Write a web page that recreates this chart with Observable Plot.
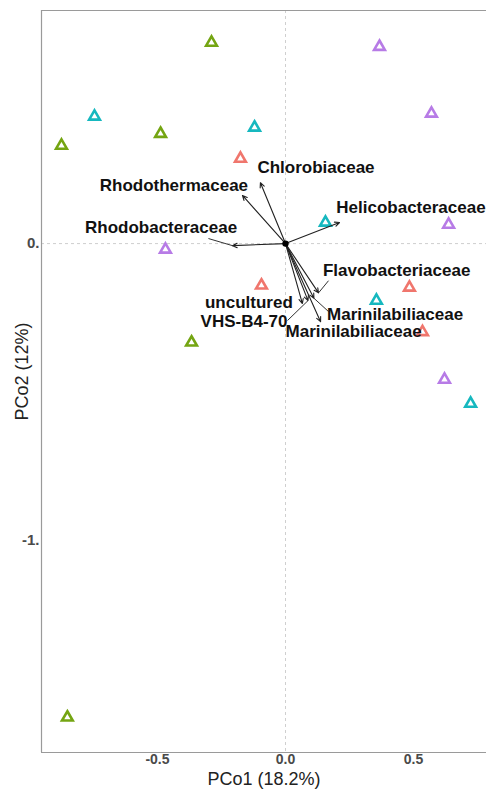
<!DOCTYPE html>
<html>
<head>
<meta charset="utf-8">
<script src="https://cdn.jsdelivr.net/npm/d3@7"></script>
<script src="https://cdn.jsdelivr.net/npm/@observablehq/plot@0.6"></script>
<style>
  html, body { margin: 0; padding: 0; background: #fff; }
  #chart svg { display: block; }
</style>
</head>
<body>
<div id="chart"></div>
<script>
// Sample scores (PCo1, PCo2) and group
const groupNames = ["A", "B", "C", "D"];
const groupColors = ["#F0766D", "#74A512", "#16B8BF", "#B77BE6"];
const ptX = [-0.176, -0.094, 0.484, 0.535,
             -0.289, -0.875, -0.488, -0.367, -0.852,
             -0.746, -0.121, 0.156, 0.355, 0.723,
             0.367, 0.570, 0.637, -0.469, 0.621];
const ptY = [0.286, -0.141, -0.148, -0.298,
             0.677, 0.330, 0.370, -0.333, -1.596,
             0.428, 0.391, 0.071, -0.192, -0.539,
             0.663, 0.438, 0.064, -0.020, -0.458];
const ptGroup = ["A","A","A","A",
                 "B","B","B","B","B",
                 "C","C","C","C","C",
                 "D","D","D","D","D"];

// Taxa vectors
const vecNames = ["Rhodobacteraceae", "Rhodothermaceae", "Chlorobiaceae", "Helicobacteraceae",
                  "Flavobacteriaceae", "uncultured", "VHS-B4-70", "Marinilabiliaceae", "Marinilabiliaceae"];
const vecX = [-0.207, -0.168, -0.098, 0.211, 0.129, 0.066, 0.088, 0.111, 0.137];
const vecY = [-0.007, 0.162, 0.205, 0.071, -0.166, -0.202, -0.192, -0.184, -0.263];
// Label positions (data units)
const labX = [-0.486, -0.436, 0.119, 0.490, 0.434, -0.143, -0.162, 0.428, 0.266];
const labY = [0.054, 0.195, 0.256, 0.121, -0.091, -0.199, -0.263, -0.239, -0.296];
// Label connector start points (near labels), NaN = no connector
const conX = [-0.301, NaN, NaN, NaN, 0.168, NaN, 0.008, 0.168, NaN];
const conY = [0.017, NaN, NaN, NaN, -0.125, NaN, -0.259, -0.229, NaN];

const xDomain = [-0.953, 0.785];
const yDomain = [-1.714, 0.785];
const xTicks = [-0.5, 0, 0.5];
const xTickLabels = ["-0.5", "0.0", "0.5"];
const yTicks = [0, -1];
const yTickLabels = ["0.", "-1."];
const xTitle = "PCo1 (18.2%)";
const yTitle = "PCo2 (12%)";

const points = ptX.map((x, i) => ({x, y: ptY[i], g: ptGroup[i]}));
const vecs = vecNames.map((name, i) => ({name, x: vecX[i], y: vecY[i], lx: labX[i], ly: labY[i], cx: conX[i], cy: conY[i]}));
const conns = vecs.filter(d => !isNaN(d.cx));

const font = "'Liberation Sans', Arial, sans-serif";

const chart = Plot.plot({
  width: 486,
  height: 789,
  marginLeft: 41,
  marginRight: 0,
  marginTop: 10,
  marginBottom: 37,
  style: {fontFamily: font, background: "#fff"},
  x: {domain: xDomain},
  y: {domain: yDomain},
  color: {domain: groupNames, range: groupColors},
  marks: [
    Plot.ruleX([0], {stroke: "#cfcfcf", strokeDasharray: "3,3", strokeWidth: 1}),
    Plot.ruleY([0], {stroke: "#cfcfcf", strokeDasharray: "3,3", strokeWidth: 1}),
    Plot.ruleX([xDomain[0]], {stroke: "#9a9a9a", strokeWidth: 1.2}),
    Plot.ruleY([yDomain[0], yDomain[1]], {stroke: "#9a9a9a", strokeWidth: 1.2}),
    Plot.axisX({ticks: xTicks, tickFormat: (d) => xTickLabels[xTicks.indexOf(d)], tickSize: 0, tickPadding: 2,
                fontSize: 14, fill: "#4a4a4a", fontWeight: "bold", label: null}),
    Plot.axisY({ticks: yTicks, tickFormat: (d) => yTickLabels[yTicks.indexOf(d)], tickSize: 0, tickPadding: 2,
                fontSize: 15, fill: "#4a4a4a", fontWeight: "bold", label: null}),
    Plot.text([xTitle], {frameAnchor: "bottom", dy: 32, text: d => d, fontSize: 18, fill: "#222", textAnchor: "middle"}),
    Plot.text([yTitle], {x: xDomain[0], y: -0.431, dx: -19, rotate: -90, text: d => d, fontSize: 18, fill: "#222"}),
    Plot.dot(points, {x: "x", y: "y", stroke: "g", symbol: "triangle", r: 4, strokeWidth: 2.6, fill: "white"}),
    Plot.link(conns, {x1: "cx", y1: "cy", x2: "x", y2: "y", stroke: "#333", strokeWidth: 1}),
    Plot.arrow(vecs, {x1: 0, y1: 0, x2: "x", y2: "y", stroke: "#222", strokeWidth: 1.1, headLength: 7, headAngle: 50}),
    Plot.dot([0], {x: 0, y: 0, r: 3.2, fill: "black"}),
    Plot.text(vecs, {x: "lx", y: "ly", text: "name", fontSize: 17, fontWeight: "bold", fill: "#111", textAnchor: "middle"})
  ]
});
document.getElementById("chart").appendChild(chart);
</script>
</body>
</html>
